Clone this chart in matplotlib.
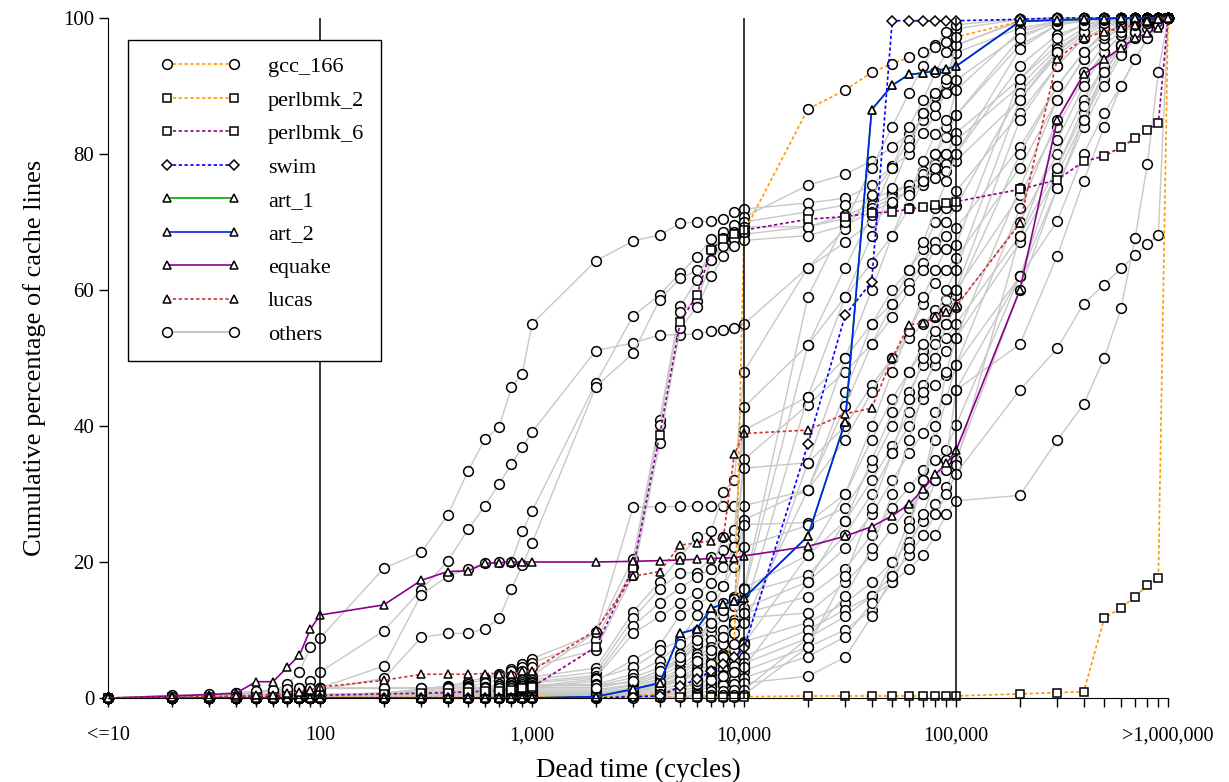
import matplotlib
matplotlib.use("Agg")
import matplotlib.pyplot as plt
from matplotlib.lines import Line2D
from matplotlib.legend_handler import HandlerLine2D

plt.rcParams['font.family'] = ['Liberation Serif', 'DejaVu Serif']

# x positions (dead time in cycles)
dead_time = [10, 20, 30, 40, 50, 60, 70, 80, 90, 100,
             200, 300, 400, 500, 600, 700, 800, 900, 1000,
             2000, 3000, 4000, 5000, 6000, 7000, 8000, 9000, 10000,
             20000, 30000, 40000, 50000, 60000, 70000, 80000, 90000, 100000,
             200000, 300000, 400000, 500000, 600000, 700000, 800000, 900000, 1000000]
tick_pos = [10, 100, 1000, 10000, 100000, 1000000]
tick_labels = ['<=10', '100', '1,000', '10,000', '100,000', '>1,000,000']

# highlighted benchmarks (cumulative %)
gcc_166 = [0, 0, 0, 0, 0, 0, 0, 0, 0, 0.1,
           0.1, 0.1, 0.1, 0.1, 0.1, 0.1, 0.2, 0.2, 0.2,
           0.2, 0.3, 0.6, 1.2, 2.5, 4.0, 6.0, 8.0, 68.5,
           86.6, 89.4, 92.0, 93.3, 94.2, 95.0, 95.7, 96.4, 97.2,
           99.5, 99.7, 99.8, 99.9, 99.9, 100, 100, 100, 100]
perlbmk_2 = [0, 0, 0, 0, 0, 0, 0, 0, 0, 0,
             0, 0, 0, 0, 0, 0, 0, 0, 0.1,
             0.1, 0.1, 0.1, 0.1, 0.1, 0.1, 0.1, 0.2, 0.2,
             0.3, 0.3, 0.3, 0.3, 0.3, 0.3, 0.3, 0.3, 0.3,
             0.6, 0.8, 0.9, 11.7, 13.3, 14.9, 16.6, 17.7, 100]
perlbmk_6 = [0, 0.1, 0.1, 0.2, 0.2, 0.2, 0.3, 0.3, 0.3, 0.4,
             0.6, 0.7, 0.8, 0.9, 1.0, 1.1, 1.2, 1.4, 1.6,
             7.5, 19.1, 38.7, 55.3, 59.3, 65.9, 67.5, 68.2, 68.8,
             70.4, 70.8, 71.3, 71.5, 71.9, 72.2, 72.5, 72.8, 73.0,
             74.8, 76.2, 78.9, 79.7, 81.0, 82.3, 83.5, 84.5, 100]
swim = [0, 0, 0, 0, 0, 0, 0, 0, 0, 0,
        0, 0, 0, 0, 0, 0, 0, 0, 0,
        0, 0.2, 0.3, 1.7, 2.8, 4.0, 5.0, 6.0, 7.3,
        37.3, 56.3, 61.2, 99.6, 99.6, 99.6, 99.6, 99.6, 99.6,
        99.8, 100, 100, 100, 100, 100, 100, 100, 100]
art_1 = [0, 0, 0, 0, 0, 0, 0, 0, 0, 0,
         0, 0, 0, 0, 0, 0, 0, 0, 0,
         0.2, 1.3, 2.2, 9.5, 10.2, 13.2, 13.8, 14.2, 14.7,
         23.8, 40.6, 86.5, 90.1, 91.7, 91.9, 92.3, 92.5, 92.9,
         99.5, 99.7, 99.8, 99.9, 100, 100, 100, 100, 100]
art_2 = [0, 0, 0, 0, 0, 0, 0, 0, 0, 0,
         0, 0, 0, 0, 0, 0, 0, 0, 0,
         0.2, 1.3, 2.2, 9.5, 10.2, 13.2, 13.8, 14.2, 14.7,
         23.8, 40.6, 86.5, 90.1, 91.7, 91.9, 92.3, 92.5, 92.9,
         99.5, 99.7, 99.8, 99.9, 100, 100, 100, 100, 100]
equake = [0, 0.3, 0.5, 0.7, 2.4, 2.4, 4.5, 6.3, 10.1, 12.2,
          13.7, 17.3, 18.6, 18.7, 19.8, 19.9, 20.0, 20.0, 20.0,
          20.0, 20.1, 20.2, 20.3, 20.4, 20.5, 20.6, 20.6, 20.9,
          22.3, 23.8, 25.2, 26.8, 28.5, 30.7, 32.9, 34.5, 36.4,
          60.0, 85.0, 91.7, 93.9, 95.6, 97.0, 97.8, 98.5, 100]
lucas = [0, 0.1, 0.2, 0.3, 0.4, 0.5, 0.7, 0.9, 1.2, 1.6,
         2.6, 3.5, 3.5, 3.5, 3.6, 3.6, 3.6, 3.9, 4.0,
         10.0, 17.9, 18.6, 22.5, 22.8, 23.1, 23.7, 35.9, 38.9,
         39.4, 41.8, 42.6, 50.0, 54.9, 55.1, 56.1, 56.8, 57.6,
         69.8, 94.0, 97.0, 98.0, 98.5, 99.0, 99.5, 99.8, 100]

# remaining benchmarks (grey)
others = [
    [0, 0.2, 0.3, 0.5, 0.8, 1.0, 2.0, 3.8, 7.5, 8.8,
     19.1, 21.4, 26.9, 33.4, 38.1, 39.9, 45.7, 47.7, 55.0,
     64.3, 67.2, 68.1, 69.8, 70.0, 70.1, 70.4, 71.5, 71.9,
     72.8, 73.5, 75.4, 78.2, 80.0, 83.1, 85.7, 89.4, 90.9,
     97.5, 99.2, 99.6, 99.8, 99.9, 100, 100, 100, 100],
    [0, 0.1, 0.2, 0.3, 0.5, 0.7, 1.0, 1.5, 2.5, 3.8,
     9.9, 15.9, 20.1, 24.8, 28.3, 31.5, 34.4, 36.9, 39.1,
     51.1, 52.2, 53.4, 53.4, 53.6, 53.9, 54.1, 54.4, 55.0,
     63.3, 67.0, 70.0, 72.5, 75.0, 77.5, 80.0, 82.5, 85.7,
     96.0, 99.0, 99.5, 99.8, 100, 100, 100, 100, 100],
    [0, 0, 0.1, 0.2, 0.3, 0.4, 0.5, 0.7, 1.0, 1.5,
     4.7, 15.2, 17.9, 19.0, 19.8, 20.0, 20.0, 24.5, 27.5,
     46.3, 56.2, 59.3, 62.5, 64.9, 67.5, 68.5, 69.5, 70.7,
     75.4, 77.0, 79.0, 81.0, 83.0, 85.0, 87.0, 89.0, 94.9,
     98.5, 99.5, 99.8, 99.9, 100, 100, 100, 100, 100],
    [0, 0, 0, 0.1, 0.2, 0.3, 0.4, 0.5, 0.8, 1.2,
     2.9, 8.9, 9.5, 9.5, 10.2, 11.7, 16.1, 19.5, 22.8,
     45.8, 50.7, 58.6, 61.7, 62.9, 64.4, 67.0, 68.5, 70.0,
     71.5, 72.5, 73.5, 74.5, 75.5, 76.5, 77.5, 78.5, 80.0,
     93.0, 97.5, 99.0, 99.5, 99.8, 100, 100, 100, 100],
    [0, 0, 0, 0.1, 0.1, 0.2, 0.2, 0.3, 0.3, 0.4,
     0.8, 1.3, 1.8, 2.4, 3.0, 3.6, 4.3, 5.0, 5.8,
     9.5, 20.5, 40.9, 57.6, 61.5, 66.0, 67.7, 68.2, 69.3,
     69.3, 71.0, 72.5, 74.0, 75.5, 77.0, 78.5, 80.0, 83.1,
     91.0, 96.0, 98.5, 99.5, 99.8, 100, 100, 100, 100],
    [0, 0, 0.1, 0.1, 0.2, 0.2, 0.3, 0.3, 0.4, 0.5,
     0.7, 1.1, 1.6, 2.1, 2.7, 3.3, 3.9, 4.5, 5.2,
     8.5, 19.3, 40.1, 56.8, 58.4, 64.4, 66.5, 67.5, 68.2,
     69.3, 70.5, 72.0, 73.5, 74.5, 75.5, 76.5, 77.5, 79.0,
     88.0, 94.5, 97.5, 99.0, 99.5, 99.8, 100, 100, 100],
    [0, 0, 0, 0, 0.1, 0.1, 0.1, 0.2, 0.2, 0.3,
     0.5, 0.9, 1.3, 1.7, 2.2, 2.7, 3.2, 3.9, 4.6,
     7.1, 18.1, 37.5, 54.4, 57.5, 62.0, 65.0, 66.5, 67.3,
     68.0, 69.5, 71.5, 73.0, 74.5, 76.0, 78.0, 80.0, 82.0,
     90.0, 95.5, 98.0, 99.3, 99.7, 100, 100, 100, 100],
    [0, 0, 0, 0, 0.1, 0.1, 0.1, 0.2, 0.2, 0.3,
     0.5, 0.8, 1.0, 1.3, 1.6, 2.0, 2.4, 2.8, 3.3,
     9.7, 28.1, 28.1, 28.2, 28.2, 28.2, 28.2, 28.3, 28.3,
     30.6, 45.0, 55.0, 60.0, 63.0, 66.0, 70.0, 72.0, 74.5,
     86.0, 93.0, 97.0, 98.5, 99.5, 99.8, 100, 100, 100],
    [0, 0, 0, 0, 0, 0.1, 0.1, 0.1, 0.2, 0.2,
     0.3, 0.5, 0.8, 1.1, 1.4, 1.8, 2.2, 2.6, 3.1,
     4.4, 12.7, 17.1, 20.8, 23.7, 24.5, 30.3, 32.1, 48.0,
     63.3, 69.0, 74.0, 78.0, 82.0, 86.0, 88.5, 90.5, 96.0,
     99.6, 99.8, 100, 100, 100, 100, 100, 100, 100],
    [0, 0, 0, 0, 0.1, 0.1, 0.1, 0.2, 0.2, 0.3,
     0.3, 0.5, 0.7, 0.9, 1.2, 1.5, 1.9, 2.3, 2.7,
     3.8, 11.7, 16.1, 18.4, 18.4, 20.8, 21.8, 23.5, 42.8,
     51.9, 59.0, 64.0, 68.0, 72.0, 76.0, 80.0, 84.0, 89.4,
     98.0, 99.5, 99.8, 100, 100, 100, 100, 100, 100],
    [0, 0, 0, 0, 0, 0, 0.1, 0.1, 0.1, 0.2,
     0.2, 0.4, 0.6, 0.8, 1.0, 1.3, 1.6, 2.0, 2.4,
     3.3, 10.6, 14.0, 16.2, 17.8, 19.0, 23.7, 24.7, 39.4,
     44.3, 50.0, 55.0, 58.0, 61.0, 64.0, 67.0, 70.0, 72.3,
     89.0, 95.0, 98.0, 99.5, 99.8, 100, 100, 100, 100],
    [0, 0, 0, 0, 0, 0, 0, 0.1, 0.1, 0.1,
     0.2, 0.4, 0.6, 0.8, 1.0, 1.2, 1.5, 1.8, 2.2,
     3.0, 9.5, 12.0, 14.0, 15.4, 16.9, 19.3, 22.2, 35.1,
     43.1, 48.0, 52.0, 56.0, 60.0, 63.0, 66.0, 68.0, 69.1,
     81.0, 90.0, 95.0, 98.0, 99.0, 99.5, 99.8, 100, 100],
    [0, 0, 0, 0, 0, 0, 0, 0, 0.1, 0.1,
     0.2, 0.3, 0.4, 0.5, 0.7, 0.9, 1.1, 1.3, 1.5,
     2.5, 5.6, 7.8, 12.2, 13.7, 15.0, 16.5, 22.2, 33.8,
     34.6, 40.0, 46.0, 50.0, 54.0, 58.0, 61.0, 63.0, 64.7,
     78.0, 88.0, 94.0, 97.0, 98.5, 99.3, 99.7, 100, 100],
    [0, 0, 0, 0, 0, 0, 0.1, 0.1, 0.1, 0.1,
     0.1, 0.2, 0.3, 0.4, 0.6, 0.8, 1.0, 1.3, 1.7,
     2.8, 4.5, 7.0, 8.5, 12.2, 12.5, 16.5, 19.3, 26.2,
     30.6, 38.0, 45.0, 50.0, 53.0, 55.0, 57.0, 58.5, 60.0,
     74.0, 84.0, 91.0, 95.0, 97.5, 99.0, 99.6, 100, 100],
    [0, 0, 0, 0, 0.1, 0.1, 0.1, 0.1, 0.2, 0.2,
     0.3, 0.5, 0.7, 0.9, 1.1, 1.3, 1.5, 1.7, 1.9,
     2.0, 3.5, 5.5, 8.0, 9.8, 12.0, 14.0, 14.9, 25.5,
     25.8, 30.0, 38.0, 44.0, 48.0, 51.0, 53.0, 55.0, 57.5,
     70.0, 80.0, 88.0, 93.0, 96.0, 98.0, 99.3, 99.8, 100],
    [0, 0, 0, 0, 0, 0.1, 0.1, 0.1, 0.1, 0.2,
     0.3, 0.4, 0.6, 0.8, 1.0, 1.2, 1.4, 1.6, 1.8,
     1.8, 3.0, 4.5, 6.5, 9.0, 11.0, 13.0, 14.0, 22.2,
     25.4, 28.0, 34.0, 40.0, 45.0, 49.0, 52.0, 53.0, 55.0,
     68.0, 78.0, 86.0, 92.0, 95.5, 97.5, 99.0, 99.7, 100],
    [0, 0, 0, 0, 0, 0, 0.1, 0.1, 0.1, 0.1,
     0.2, 0.3, 0.5, 0.6, 0.8, 1.0, 1.1, 1.3, 1.5,
     1.5, 2.5, 4.0, 5.5, 7.5, 9.5, 12.0, 13.5, 16.2,
     21.0, 26.0, 32.0, 37.0, 42.0, 46.0, 49.0, 51.0, 53.0,
     67.0, 77.0, 85.0, 91.0, 95.0, 97.3, 98.8, 99.6, 100],
    [0, 0, 0, 0, 0, 0, 0, 0.1, 0.1, 0.1,
     0.2, 0.3, 0.4, 0.5, 0.6, 0.7, 0.9, 1.0, 1.2,
     1.2, 2.0, 3.2, 4.8, 6.5, 8.5, 10.0, 11.5, 15.4,
     18.1, 24.0, 30.0, 36.0, 40.0, 44.0, 46.0, 47.5, 49.0,
     62.0, 75.0, 84.0, 90.0, 94.5, 97.0, 98.6, 99.5, 100],
    [0, 0, 0, 0, 0, 0, 0, 0, 0, 0,
     0.1, 0.2, 0.3, 0.4, 0.5, 0.6, 0.7, 0.8, 1.0,
     1.0, 1.8, 2.8, 4.2, 6.0, 7.5, 9.0, 10.8, 13.2,
     17.1, 22.0, 27.0, 32.0, 36.0, 39.0, 42.0, 44.0, 45.3,
     52.0, 65.0, 76.0, 84.0, 90.0, 94.0, 97.0, 99.0, 100],
    [0, 0, 0, 0, 0, 0, 0, 0, 0, 0,
     0.1, 0.2, 0.2, 0.3, 0.4, 0.5, 0.6, 0.7, 0.8,
     0.8, 1.5, 2.5, 3.8, 5.5, 7.0, 8.5, 10.0, 12.5,
     14.9, 19.0, 24.0, 28.0, 31.0, 33.5, 35.0, 36.5, 40.1,
     62.0, 78.0, 87.0, 93.0, 96.0, 98.0, 99.2, 99.8, 100],
    [0, 0, 0, 0, 0, 0, 0, 0, 0, 0,
     0.1, 0.1, 0.2, 0.2, 0.3, 0.3, 0.4, 0.5, 0.6,
     0.6, 1.2, 2.0, 3.0, 4.5, 5.5, 6.5, 7.5, 11.8,
     12.5, 17.0, 21.0, 25.0, 28.0, 30.0, 32.0, 33.5, 35.0,
     60.0, 75.0, 85.0, 92.0, 96.0, 98.0, 99.3, 99.8, 100],
    [0, 0, 0, 0, 0, 0, 0, 0, 0, 0,
     0, 0.1, 0.1, 0.2, 0.2, 0.3, 0.3, 0.4, 0.5,
     0.5, 1.0, 1.6, 2.5, 3.5, 4.3, 5.0, 5.6, 8.3,
     11.1, 14.0, 17.0, 20.0, 23.0, 26.0, 28.5, 31.0, 34.3,
     68.0, 82.0, 90.0, 95.0, 97.5, 99.0, 99.6, 100, 100],
    [0, 0, 0, 0, 0, 0, 0, 0, 0, 0,
     0, 0.1, 0.1, 0.1, 0.2, 0.2, 0.3, 0.3, 0.4,
     0.4, 0.8, 1.3, 2.0, 2.8, 3.6, 4.2, 4.7, 6.1,
     10.0, 13.0, 15.0, 17.0, 19.0, 21.0, 24.0, 27.0, 29.0,
     29.8, 37.9, 43.2, 50.0, 57.3, 67.7, 78.6, 92.0, 100],
    [0, 0, 0, 0, 0, 0, 0, 0, 0, 0,
     0, 0, 0.1, 0.1, 0.1, 0.2, 0.2, 0.2, 0.3,
     0.3, 0.6, 1.0, 1.5, 2.2, 2.8, 3.4, 3.8, 5.1,
     8.8, 12.0, 15.0, 18.0, 21.0, 24.0, 27.0, 30.0, 33.0,
     45.3, 51.4, 58.0, 60.8, 63.2, 65.1, 66.8, 68.1, 100],
    [0, 0, 0, 0, 0, 0, 0, 0, 0, 0,
     0, 0, 0, 0.1, 0.1, 0.1, 0.1, 0.2, 0.2,
     0.2, 0.4, 0.7, 1.1, 1.6, 2.0, 2.4, 2.8, 4.0,
     7.5, 10.0, 13.0, 17.0, 22.0, 27.0, 32.0, 35.0, 45.3,
     62.0, 70.1, 80.0, 86.0, 90.0, 94.0, 97.0, 99.0, 100],
    [0, 0, 0, 0, 0, 0, 0, 0, 0, 0,
     0, 0, 0, 0, 0, 0.1, 0.1, 0.1, 0.1,
     0.1, 0.3, 0.5, 0.8, 1.2, 1.6, 1.9, 2.1, 3.0,
     6.1, 9.0, 14.0, 20.0, 26.0, 32.0, 38.0, 44.0, 49.0,
     72.0, 85.0, 92.0, 96.0, 98.0, 99.2, 99.7, 100, 100],
    [0, 0, 0, 0, 0, 0, 0, 0, 0, 0,
     0, 0, 0, 0, 0, 0, 0, 0.1, 0.1,
     0.1, 0.2, 0.4, 0.6, 0.8, 1.0, 1.1, 1.2, 2.2,
     3.2, 6.0, 12.0, 18.0, 25.0, 32.0, 40.0, 48.0, 53.0,
     75.0, 88.0, 94.0, 97.0, 98.7, 99.5, 99.8, 100, 100],
    [0, 0, 0, 0, 0, 0, 0, 0, 0, 0,
     0, 0, 0, 0, 0, 0, 0, 0, 0,
     0, 0.1, 0.2, 0.3, 0.4, 0.4, 0.5, 0.5, 1.2,
     8.8, 15.0, 22.0, 30.0, 38.0, 45.0, 50.0, 55.0, 59.2,
     80.0, 90.0, 95.0, 97.5, 99.0, 99.6, 100, 100, 100],
    [0, 0, 0, 0, 0, 0, 0, 0, 0, 0,
     0, 0, 0, 0, 0, 0, 0, 0, 0,
     0, 0, 0.1, 0.1, 0.2, 0.2, 0.2, 0.2, 0.5,
     7.5, 18.0, 28.0, 36.0, 44.0, 50.0, 54.0, 57.0, 60.0,
     85.0, 93.0, 97.0, 98.5, 99.4, 99.8, 100, 100, 100],
    [0, 0, 0, 0.1, 0.1, 0.1, 0.2, 0.2, 0.2, 0.3,
     0.3, 0.3, 0.3, 0.3, 0.3, 0.3, 0.3, 0.3, 0.3,
     0.3, 0.6, 1.0, 1.5, 2.0, 2.6, 3.2, 3.8, 4.5,
     17.1, 26.0, 35.0, 42.0, 48.0, 52.0, 56.0, 60.0, 63.0,
     88.0, 95.0, 98.0, 99.3, 99.8, 100, 100, 100, 100],
    [0, 0, 0, 0.1, 0.1, 0.1, 0.2, 0.2, 0.2, 0.3,
     0.3, 0.3, 0.4, 0.4, 0.4, 0.4, 0.5, 0.5, 0.5,
     0.5, 1.0, 1.8, 2.8, 4.0, 5.0, 6.0, 7.0, 8.0,
     21.0, 30.0, 40.0, 48.0, 54.0, 59.0, 63.0, 66.0, 66.6,
     91.0, 97.0, 99.0, 99.7, 100, 100, 100, 100, 100],
    [0, 0.1, 0.2, 0.3, 0.4, 0.4, 0.5, 0.5, 0.5, 0.5,
     0.5, 0.5, 0.5, 0.5, 0.5, 0.6, 0.6, 0.6, 0.6,
     0.6, 1.2, 2.2, 3.5, 5.0, 6.5, 8.0, 9.5, 11.0,
     30.6, 43.0, 52.0, 58.0, 63.0, 67.0, 72.0, 76.0, 80.0,
     95.5, 99.0, 99.7, 100, 100, 100, 100, 100, 100],
    [0, 0, 0.1, 0.1, 0.1, 0.2, 0.2, 0.2, 0.3, 0.3,
     0.3, 0.3, 0.3, 0.3, 0.4, 0.4, 0.4, 0.4, 0.4,
     0.4, 0.9, 1.6, 2.6, 3.8, 5.0, 6.2, 7.0, 8.0,
     34.6, 50.0, 60.0, 68.0, 74.0, 79.0, 83.0, 85.0, 85.7,
     97.0, 99.5, 99.9, 100, 100, 100, 100, 100, 100],
    [0, 0.2, 0.3, 0.4, 0.5, 0.5, 0.6, 0.6, 0.6, 0.6,
     0.6, 0.6, 0.6, 0.6, 0.6, 0.7, 0.7, 0.7, 0.7,
     0.7, 1.4, 2.4, 3.8, 5.5, 7.0, 9.0, 11.0, 12.5,
     44.3, 59.0, 68.0, 75.0, 81.0, 86.0, 89.0, 91.0, 96.0,
     99.5, 100, 100, 100, 100, 100, 100, 100, 100],
    [0, 0.3, 0.5, 0.7, 0.9, 1.0, 1.1, 1.2, 1.3, 1.4,
     1.4, 1.5, 1.5, 1.6, 1.6, 1.7, 1.7, 1.8, 1.8,
     1.9, 2.3, 3.5, 5.5, 8.0, 10.5, 13.0, 14.5, 15.6,
     51.9, 63.3, 71.0, 78.0, 84.0, 88.0, 92.0, 95.0, 98.4,
     99.8, 100, 100, 100, 100, 100, 100, 100, 100],
    [0, 0.4, 0.6, 0.8, 1.0, 1.2, 1.3, 1.4, 1.5, 1.5,
     1.5, 1.5, 1.5, 1.5, 1.5, 1.5, 1.5, 1.5, 1.5,
     1.5, 2.5, 4.0, 6.0, 8.5, 11.0, 13.0, 14.5, 16.0,
     59.0, 70.0, 78.0, 84.0, 89.0, 93.0, 96.0, 98.0, 99.0,
     99.9, 100, 100, 100, 100, 100, 100, 100, 100],
]

fig = plt.figure(figsize=(12.29, 7.82), dpi=100)
ax = fig.add_axes([0.0879, 0.1074, 0.8625, 0.8696])

mk = dict(mfc='white', mec='black', mew=1.1, clip_on=False)

for vals in others:
    ax.plot(dead_time, vals, color='#c8c8c8', lw=1.0, marker='o', ms=7, zorder=2, **mk)

series = [
    ('gcc_166', gcc_166, '#ff9900', (0, (2, 1.5)), 'o', 7),
    ('perlbmk_2', perlbmk_2, '#ff9900', (0, (2, 1.5)), 's', 5.5),
    ('perlbmk_6', perlbmk_6, '#8b008b', (0, (2, 1.5)), 's', 5.5),
    ('swim', swim, '#0000ff', (0, (2, 1.5)), 'D', 5),
    ('art_1', art_1, '#00aa00', '-', '^', 5.8),
    ('art_2', art_2, '#0022ee', '-', '^', 5.8),
    ('equake', equake, '#8b008b', '-', '^', 5.8),
    ('lucas', lucas, '#cc3333', (0, (2, 1.5)), '^', 5.8),
]
handles = []
for name, vals, col, ls, m, size in series:
    h, = ax.plot(dead_time, vals, color=col, ls=ls, lw=1.2, marker=m, ms=size, zorder=3, label=name, **mk)
    handles.append(h)
h_oth = Line2D([], [], color='#c8c8c8', lw=1.5, marker='o', ms=7, mfc='white', mec='black', mew=1.1, label='others')
handles.append(h_oth)

for xv in [100, 10000, 100000]:
    ax.axvline(xv, color='black', lw=1.1, zorder=4)

ax.set_xscale('log')
ax.set_xlim(10, 1000000)
ax.set_ylim(0, 100)
ax.set_xticks(dead_time, minor=True)
ax.set_xticks(tick_pos)
ax.set_xticklabels(tick_labels, fontsize=14.5)
ax.tick_params(axis='x', which='both', length=6.5, width=1, direction='out', pad=14)
ax.tick_params(axis='x', which='minor', labelbottom=False)
ax.set_yticks([0, 20, 40, 60, 80, 100])
ax.tick_params(axis='y', length=6.5, width=1, labelsize=15)
for s in ['top', 'right']:
    ax.spines[s].set_visible(False)
ax.spines['bottom'].set_zorder(5)

ax.set_xlabel('Dead time (cycles)', fontsize=19.5, labelpad=9)
ax.set_ylabel('Cumulative percentage of cache lines', fontsize=19, labelpad=12)

leg = ax.legend(handles=handles, loc='upper left', bbox_to_anchor=(0.0189, 0.9676), borderaxespad=0,
                numpoints=2, handlelength=5.0, handletextpad=0.55, labelspacing=0.58, fontsize=16,
                fancybox=False, edgecolor='black', framealpha=1, borderpad=0.75,
                handler_map={Line2D: HandlerLine2D(marker_pad=1.0)})
leg.get_frame().set_linewidth(1.0)
leg.set_zorder(10)

fig.savefig('out.png', dpi=100)
plt.close(fig)
